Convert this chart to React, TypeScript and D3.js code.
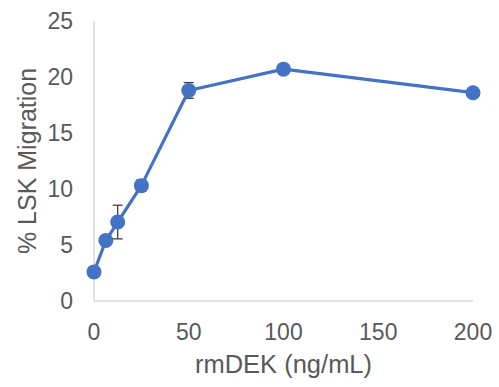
import React from 'react';
import * as d3 from 'd3';

// rmDEK dose (ng/mL) and % LSK migration
const doses = [0, 6.25, 12.5, 25, 50, 100, 200];
const migration = [2.6, 5.4, 7.05, 10.3, 18.8, 20.7, 18.6];
const errors = [0, 0, 1.5, 0.5, 0.7, 0, 0];
const xTicks = [0, 50, 100, 150, 200];
const yTicks = [0, 5, 10, 15, 20, 25];

const W = 499;
const H = 387;
const FONT = 'Arial, "Liberation Sans", sans-serif';
const TEXT = '#595959';
const BLUE = '#4472C4';

const App: React.FC = () => {
  const margin = { top: 21, right: 26, bottom: 86, left: 94 };

  const x = d3.scaleLinear().domain([0, 200]).range([margin.left, W - margin.right]);
  const y = d3.scaleLinear().domain([0, 25]).range([H - margin.bottom, margin.top]);

  const points = doses.map((d, i) => ({ x: d, y: migration[i], e: errors[i] }));
  const line = d3.line<{ x: number; y: number }>()
    .x(d => x(d.x))
    .y(d => y(d.y));

  return (
    <div style={{ position: 'absolute', left: 0, top: 0 }}>
      <svg width={W} height={H} style={{ display: 'block', background: '#fff' }}>
        {/* axes */}
        <line x1={x(0)} x2={x(0)} y1={y(25)} y2={y(0)} stroke="#d9d9d9" strokeWidth={1.5} />
        <line x1={x(0)} x2={x(200)} y1={y(0)} y2={y(0)} stroke="#d9d9d9" strokeWidth={1.5} />

        {yTicks.map(t => (
          <text key={'y' + t} x={x(0) - 21} y={y(t)} dy="0.35em" textAnchor="end"
            fontFamily={FONT} fontSize={23} fill={TEXT}>{t}</text>
        ))}
        {xTicks.map(t => (
          <text key={'x' + t} x={x(t)} y={y(0) + 39} textAnchor="middle"
            fontFamily={FONT} fontSize={23} fill={TEXT}>{t}</text>
        ))}

        <text x={(x(0) + x(200)) / 2} y={373} textAnchor="middle"
          fontFamily={FONT} fontSize={25.5} fill={TEXT}>rmDEK (ng/mL)</text>
        <text transform={`translate(36, ${(y(0) + y(25)) / 2}) rotate(-90)`} textAnchor="middle"
          fontFamily={FONT} fontSize={25} fill={TEXT}>% LSK Migration</text>

        {/* error bars */}
        {points.filter(p => p.e > 0).map((p, i) => (
          <g key={'e' + i} stroke="#404040" strokeWidth={1.3}>
            <line x1={x(p.x)} x2={x(p.x)} y1={y(p.y + p.e)} y2={y(p.y - p.e)} />
            <line x1={x(p.x) - 5} x2={x(p.x) + 5} y1={y(p.y + p.e)} y2={y(p.y + p.e)} />
            <line x1={x(p.x) - 5} x2={x(p.x) + 5} y1={y(p.y - p.e)} y2={y(p.y - p.e)} />
          </g>
        ))}

        <path d={line(points) || ''} fill="none" stroke={BLUE} strokeWidth={3.2} strokeLinejoin="round" />
        {points.map((p, i) => (
          <circle key={'p' + i} cx={x(p.x)} cy={y(p.y)} r={7.5} fill={BLUE} />
        ))}
      </svg>
    </div>
  );
};

export default App;
